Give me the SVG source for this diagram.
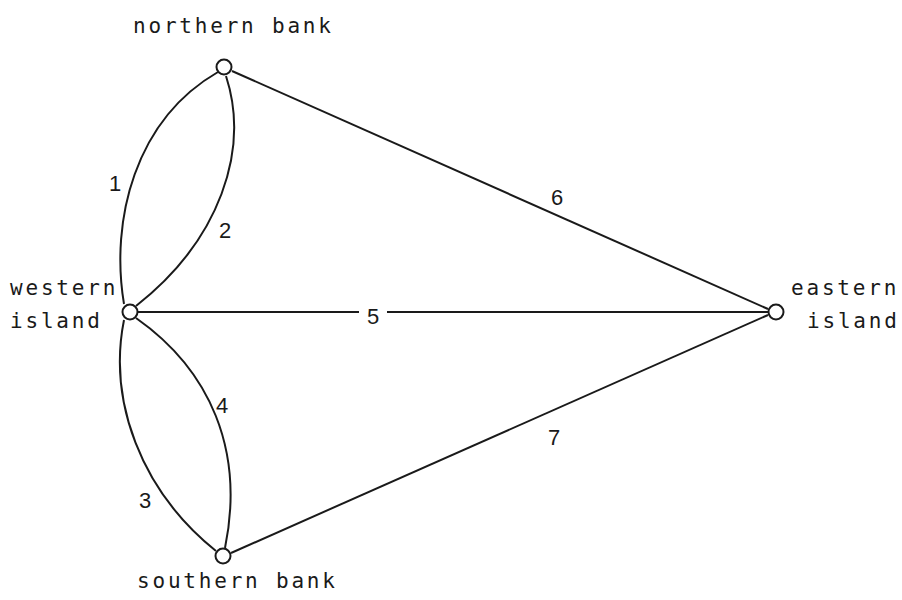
<svg xmlns="http://www.w3.org/2000/svg" width="902" height="600" viewBox="0 0 902 600">
<style>
.e{fill:none;stroke:#1a1a1a;stroke-width:2}
.n{fill:#fff;stroke:#1a1a1a;stroke-width:2}
.t{font-family:"DejaVu Sans Mono","Liberation Mono",monospace;font-size:21px;letter-spacing:2.8px;fill:#1a1a1a}
.l{font-family:"Liberation Sans","DejaVu Sans",sans-serif;font-size:22px;fill:#1a1a1a;text-anchor:middle}
</style>
<rect width="902" height="600" fill="#fff"/>
<g id="connectors">
<path class="e" d="M124,304 C110,220 135,120 218,72"/>
<path class="e" d="M136,306 C220,240 250,150 226,76"/>
<path class="e" d="M124,320 C108,400 140,490 216,551"/>
<path class="e" d="M136,318 C210,370 245,450 225,548"/>
<path class="e" d="M138,312 L359,312 M387,312 L768,312"/>
<path class="e" d="M232,71 L768,309"/>
<path class="e" d="M231,553 L768,315"/>
<text class="l" x="115" y="191">1</text>
<text class="l" x="225" y="238">2</text>
<text class="l" x="145" y="508">3</text>
<text class="l" x="222" y="413">4</text>
<text class="l" x="373" y="324">5</text>
<text class="l" x="557" y="205">6</text>
<text class="l" x="554" y="445">7</text>
</g>
<g id="northern-bank">
<circle class="n" cx="224" cy="67" r="7.5"/>
<text class="t" x="133" y="33">northern bank</text>
</g>
<g id="western-island">
<circle class="n" cx="130" cy="312" r="7.5"/>
<text class="t" x="10" y="295">western</text>
<text class="t" x="10" y="328">island</text>
</g>
<g id="eastern-island">
<circle class="n" cx="776" cy="312" r="7.5"/>
<text class="t" x="791" y="295">eastern</text>
<text class="t" x="807" y="328">island</text>
</g>
<g id="southern-bank">
<circle class="n" cx="223" cy="556" r="7.5"/>
<text class="t" x="137" y="588">southern bank</text>
</g>
</svg>
